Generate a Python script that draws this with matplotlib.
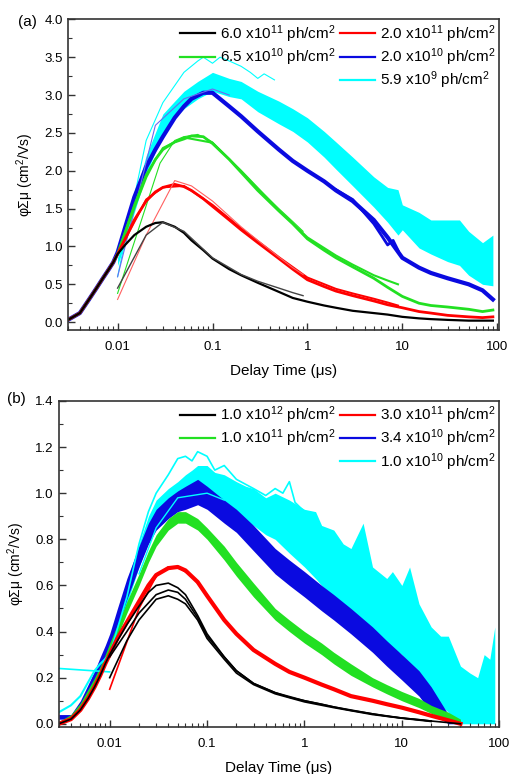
import matplotlib
matplotlib.use("Agg")
import matplotlib.pyplot as plt
from matplotlib.lines import Line2D
from matplotlib.ticker import FixedLocator, FixedFormatter, LogLocator, MultipleLocator, NullFormatter, FormatStrFormatter

plt.rcParams["font.family"] = ["Liberation Sans", "DejaVu Sans"]
plt.rcParams["mathtext.default"] = "regular"

# ---------------- panel (a) ----------------
t_a = [0.003, 0.004, 0.005, 0.006, 0.007, 0.008, 0.009, 0.01, 0.012, 0.015, 0.02, 0.025,
       0.03, 0.04, 0.05, 0.06, 0.08, 0.1, 0.15, 0.2, 0.3, 0.5, 0.7, 1, 1.5, 2, 3, 5, 7,
       10, 15, 20, 30, 50, 70, 90]
black_a = [0.03, 0.12, 0.30, 0.45, 0.58, 0.69, 0.79, 0.90, 1.02, 1.15, 1.26, 1.31, 1.32, 1.26,
           1.18, 1.08, 0.95, 0.84, 0.70, 0.62, 0.52, 0.40, 0.32, 0.27, 0.22, 0.19, 0.15, 0.12,
           0.10, 0.07, 0.05, 0.04, 0.03, 0.02, 0.02, 0.02]
red_a = [0.03, 0.12, 0.30, 0.45, 0.58, 0.69, 0.79, 0.90, 1.10, 1.35, 1.60, 1.72, 1.78, 1.82,
         1.79, 1.74, 1.63, 1.53, 1.35, 1.22, 1.05, 0.84, 0.70, 0.56, 0.47, 0.41, 0.35, 0.28,
         0.23, 0.19, 0.14, 0.12, 0.09, 0.07, 0.06, 0.07]
green_a = [0.03, 0.12, 0.30, 0.45, 0.58, 0.69, 0.79, 0.90, 1.18, 1.52, 1.92, 2.15, 2.28, 2.38,
           2.42, 2.46, 2.45, 2.36, 2.15, 1.98, 1.74, 1.47, 1.30, 1.10, 0.95, 0.85, 0.73, 0.58,
           0.46, 0.34, 0.25, 0.22, 0.20, 0.17, 0.14, 0.16]
blue_a = [0.03, 0.12, 0.30, 0.45, 0.58, 0.69, 0.79, 0.92, 1.25, 1.65, 2.05, 2.28, 2.45, 2.70,
          2.85, 2.95, 3.03, 3.03, 2.85, 2.72, 2.52, 2.28, 2.13, 2.00, 1.86, 1.74, 1.60, 1.35,
          1.12, 0.85, 0.72, 0.65, 0.58, 0.50, 0.42, 0.30]

# shorter acquisition windows (start at 10 ns)
black_a_short_t = [0.01, 0.02, 0.03, 0.05, 0.1, 0.2, 0.3, 0.5, 0.7, 0.9]
black_a_short = [0.45, 1.15, 1.32, 1.20, 0.85, 0.63, 0.54, 0.45, 0.39, 0.35]
red_a_short_t = [0.01, 0.02, 0.04, 0.06, 0.1, 0.2, 0.3, 0.5, 0.7, 0.9]
red_a_short = [0.30, 1.15, 1.87, 1.80, 1.60, 1.26, 1.08, 0.86, 0.72, 0.63]
red_a_mid_t = [0.01, 0.02, 0.03, 0.05, 0.1, 0.2, 0.5, 1, 2, 3, 5, 7, 9]
red_a_mid = [0.90, 1.62, 1.78, 1.80, 1.55, 1.24, 0.86, 0.59, 0.44, 0.38, 0.31, 0.26, 0.22]
green_a_short_t = [0.01, 0.028, 0.04, 0.05, 0.07, 0.1, 0.2, 0.3, 0.5, 0.7, 0.9]
green_a_short = [0.38, 2.10, 2.40, 2.45, 2.48, 2.38, 2.00, 1.77, 1.50, 1.33, 1.20]
green_a_mid_t = [0.01, 0.015, 0.02, 0.03, 0.05, 0.1, 0.2, 0.5, 1, 2, 3, 5, 7, 9]
green_a_mid = [0.90, 1.55, 1.95, 2.30, 2.44, 2.37, 2.00, 1.48, 1.12, 0.88, 0.76, 0.62, 0.55, 0.50]
blue_a_short_t = [0.01, 0.025, 0.05, 0.1, 0.15]
blue_a_short = [0.60, 2.60, 2.95, 3.08, 3.00]
blue_a_mid_t = [2, 3, 5, 6, 7, 8, 9]
blue_a_mid = [1.75, 1.62, 1.30, 1.15, 1.02, 1.08, 0.95]

cyan_a_t = [0.01, 0.012, 0.015, 0.02, 0.03, 0.04, 0.05, 0.07, 0.1, 0.15, 0.2, 0.3, 0.5, 0.7,
            1, 1.5, 2, 3, 5, 7, 9, 10, 15, 20, 30, 40, 50, 70, 90]
cyan_a_lo = [0.75, 1.05, 1.45, 1.95, 2.50, 2.70, 2.82, 2.95, 3.05, 2.98, 2.95, 2.78, 2.62,
             2.52, 2.38, 2.18, 2.02, 1.80, 1.52, 1.32, 1.15, 1.22, 0.98, 0.90, 0.80, 0.75,
             0.62, 0.50, 0.48]
cyan_a_hi = [0.85, 1.20, 1.65, 2.20, 2.75, 2.92, 3.05, 3.18, 3.30, 3.22, 3.18, 3.05, 2.92,
             2.82, 2.70, 2.52, 2.38, 2.18, 1.92, 1.78, 1.75, 1.55, 1.45, 1.35, 1.35, 1.35,
             1.20, 1.05, 1.15]
cyan_a_short_t = [0.01, 0.02, 0.03, 0.05, 0.07, 0.08, 0.1, 0.12, 0.15, 0.2, 0.25, 0.3, 0.35, 0.45]
cyan_a_short = [0.60, 2.40, 2.90, 3.30, 3.45, 3.50, 3.42, 3.50, 3.45, 3.38, 3.30, 3.22, 3.28, 3.20]

labels_a = ["6.0 x10$^{11}$ ph/cm$^2$", "2.0 x10$^{11}$ ph/cm$^2$", "6.5 x10$^{10}$ ph/cm$^2$",
            "2.0 x10$^{10}$ ph/cm$^2$", "5.9 x10$^{9}$ ph/cm$^2$"]

# ---------------- panel (b) ----------------
t_b = [0.003, 0.004, 0.005, 0.006, 0.007, 0.008, 0.009, 0.01, 0.012, 0.015, 0.02, 0.025,
       0.03, 0.04, 0.05, 0.06, 0.08, 0.1, 0.15, 0.2, 0.3, 0.5, 0.7, 1, 1.5, 2, 3, 5, 7,
       10, 15, 20, 30, 40]
black_b = [0.0, 0.02, 0.06, 0.11, 0.16, 0.21, 0.26, 0.30, 0.36, 0.43, 0.51, 0.57, 0.60, 0.61,
           0.59, 0.56, 0.47, 0.39, 0.29, 0.23, 0.175, 0.135, 0.115, 0.10, 0.085, 0.073, 0.058,
           0.043, 0.033, 0.025, 0.018, 0.012, 0.005, 0.0]
red_b = [0.0, 0.02, 0.06, 0.11, 0.16, 0.21, 0.26, 0.30, 0.37, 0.44, 0.53, 0.60, 0.645, 0.675,
         0.68, 0.665, 0.615, 0.555, 0.45, 0.39, 0.32, 0.26, 0.225, 0.20, 0.17, 0.15, 0.12,
         0.10, 0.085, 0.07, 0.05, 0.035, 0.015, 0.0]
green_b_lo = [0.0, 0.02, 0.06, 0.11, 0.16, 0.21, 0.26, 0.30, 0.38, 0.48, 0.60, 0.70, 0.77,
              0.84, 0.87, 0.87, 0.84, 0.80, 0.71, 0.64, 0.55, 0.45, 0.40, 0.35, 0.30, 0.26,
              0.21, 0.16, 0.13, 0.10, 0.07, 0.045, 0.015, 0.0]
green_b_hi = [0.01, 0.04, 0.09, 0.15, 0.20, 0.25, 0.30, 0.35, 0.43, 0.53, 0.65, 0.75, 0.82,
              0.89, 0.92, 0.92, 0.89, 0.85, 0.77, 0.70, 0.61, 0.50, 0.45, 0.40, 0.35, 0.31,
              0.26, 0.20, 0.17, 0.14, 0.11, 0.08, 0.05, 0.02]
blue_b_lo = [0.02, 0.02, 0.06, 0.12, 0.18, 0.24, 0.29, 0.33, 0.42, 0.54, 0.68, 0.78, 0.84,
             0.89, 0.92, 0.93, 0.95, 0.93, 0.87, 0.83, 0.75, 0.65, 0.60, 0.55, 0.49, 0.45,
             0.39, 0.31, 0.25, 0.19, 0.12, 0.05, 0.0, 0.0]
blue_b_hi = [0.04, 0.04, 0.10, 0.17, 0.23, 0.29, 0.34, 0.39, 0.50, 0.63, 0.77, 0.87, 0.93,
             0.98, 1.01, 1.03, 1.06, 1.03, 0.97, 0.93, 0.86, 0.76, 0.71, 0.66, 0.60, 0.56,
             0.50, 0.42, 0.36, 0.30, 0.23, 0.16, 0.04, 0.0]

black_b2_t = [0.01, 0.015, 0.02, 0.03, 0.04, 0.05, 0.06, 0.08, 0.1, 0.15, 0.2, 0.3, 0.5, 1, 2, 5, 10, 20]
black_b2 = [0.29, 0.40, 0.48, 0.56, 0.58, 0.57, 0.54, 0.46, 0.38, 0.29, 0.23, 0.175, 0.135,
            0.10, 0.073, 0.043, 0.025, 0.012]
black_b3 = [0.20, 0.36, 0.45, 0.54, 0.555, 0.54, 0.52, 0.45, 0.37, 0.28, 0.22, 0.17, 0.13,
            0.095, 0.07, 0.04, 0.024, 0.01]
red_b2_t = [0.01, 0.02, 0.03, 0.04, 0.05, 0.07, 0.1]
red_b2 = [0.15, 0.50, 0.64, 0.68, 0.68, 0.64, 0.56]

cyan_b_t = [0.01, 0.012, 0.015, 0.02, 0.025, 0.03, 0.04, 0.05, 0.06, 0.07, 0.08, 0.1, 0.12,
            0.15, 0.2, 0.25, 0.3, 0.4, 0.5, 0.7, 1, 1.3, 1.5, 2, 2.5, 3, 4, 5, 7, 8, 10, 12,
            15, 20, 25, 30, 40, 50, 60, 70, 80, 90]
cyan_b_lo = [0.30, 0.40, 0.52, 0.68, 0.80, 0.86, 0.92, 0.95, 0.97, 0.97, 0.98, 0.96, 0.94,
             0.92, 0.90, 0.88, 0.86, 0.82, 0.80, 0.74, 0.68, 0.63, 0.60, 0.55, 0.52, 0.48,
             0.44, 0.40, 0.35, 0.33, 0.30, 0.25, 0.20, 0.12, 0.08, 0.05, 0.0, 0.0, 0.0, 0.0,
             0.0, 0.0]
cyan_b_hi = [0.36, 0.48, 0.62, 0.78, 0.90, 0.97, 1.02, 1.05, 1.08, 1.10, 1.12, 1.12, 1.09,
             1.08, 1.05, 1.03, 1.02, 0.98, 1.00, 0.97, 0.93, 0.92, 0.86, 0.84, 0.78, 0.76,
             0.87, 0.68, 0.63, 0.66, 0.60, 0.68, 0.52, 0.42, 0.38, 0.38, 0.25, 0.22, 0.20,
             0.30, 0.28, 0.42]
cyan_b_early_t = [0.003, 0.004, 0.005, 0.006, 0.007, 0.008, 0.01]
cyan_b_early = [0.05, 0.08, 0.12, 0.18, 0.23, 0.26, 0.30]
cyan_b_flat_t = [0.003, 0.01]
cyan_b_flat = [0.24, 0.225]
cyan_b_thin_t = [0.01, 0.015, 0.02, 0.025, 0.03, 0.04, 0.05, 0.06, 0.07, 0.08, 0.1, 0.12,
                 0.15, 0.2, 0.3, 0.4, 0.5, 0.6, 0.7, 0.8, 1.0]
cyan_b_thin = [0.30, 0.55, 0.78, 0.92, 1.00, 1.08, 1.15, 1.16, 1.14, 1.18, 1.16, 1.10, 1.12,
               1.06, 1.02, 0.99, 1.02, 1.00, 1.05, 0.96, 0.92]
cyan_b_thin2_t = [0.02, 0.03, 0.05, 0.1, 0.15]
cyan_b_thin2 = [0.65, 0.85, 0.98, 1.00, 0.97]

labels_b = ["1.0 x10$^{12}$ ph/cm$^2$", "3.0 x10$^{11}$ ph/cm$^2$", "1.0 x10$^{11}$ ph/cm$^2$",
            "3.4 x10$^{10}$ ph/cm$^2$", "1.0 x10$^{10}$ ph/cm$^2$"]

BLACK, RED, GREEN, BLUE, CYAN = "#000000", "#ff0000", "#22e022", "#0a0ae0", "#00ffff"
colors = [BLACK, RED, GREEN, BLUE, CYAN]


def style_axes(ax, xlim, ylim, ymajor, yminor):
    ax.set_xscale("log")
    ax.set_xlim(*xlim)
    ax.set_ylim(*ylim)
    ax.xaxis.set_major_locator(FixedLocator([0.01, 0.1, 1, 10, 100]))
    ax.xaxis.set_major_formatter(FixedFormatter(["0.01", "0.1", "1", "10", "100"]))
    ax.xaxis.set_minor_locator(LogLocator(base=10, subs=range(2, 10)))
    ax.xaxis.set_minor_formatter(NullFormatter())
    ax.yaxis.set_major_locator(MultipleLocator(ymajor))
    ax.yaxis.set_minor_locator(MultipleLocator(yminor))
    ax.yaxis.set_major_formatter(FormatStrFormatter("%.1f"))
    ax.tick_params(which="major", direction="in", length=5, width=1, labelsize=9.5,
                   top=False, right=False, color="#333333")
    ax.tick_params(which="minor", direction="in", length=3, width=0.8,
                   top=False, right=False, color="#333333")
    ax.tick_params(axis="x", pad=8)
    for sp in ax.spines.values():
        sp.set_linewidth(1.2)
        sp.set_color("#333333")
    ax.set_xlabel("Delay Time (μs)", fontsize=11, labelpad=8)
    ax.set_ylabel("φΣμ (cm$^2$/Vs)", fontsize=10, labelpad=6)


def add_legend(ax, labels):
    h = [Line2D([], [], color=c, lw=1.6) for c in colors]
    blank = Line2D([], [], color="none")
    handles = [h[0], h[2], blank, h[1], h[3], h[4]]
    labs = [labels[0], labels[2], "", labels[1], labels[3], labels[4]]
    ax.legend(handles, labs, ncol=2, loc="upper right", frameon=False, fontsize=11,
              handlelength=2.3, handletextpad=0.3, columnspacing=0.3, labelspacing=0.1,
              borderaxespad=0.05, borderpad=0.2)


fig = plt.figure(figsize=(5.11, 7.74), dpi=100)
ax_a = fig.add_axes([0.133, 0.574, 0.844, 0.401])
ax_b = fig.add_axes([0.115, 0.061, 0.862, 0.421])

# panel (a)
ax_a.fill_between(cyan_a_t, cyan_a_lo, cyan_a_hi, color=CYAN, lw=0)
ax_a.plot(cyan_a_short_t, cyan_a_short, color=CYAN, lw=0.8)
ax_a.plot(t_a, blue_a, color=BLUE, lw=3.0)
ax_a.plot(blue_a_mid_t, blue_a_mid, color=BLUE, lw=2.0)
ax_a.plot(blue_a_short_t, blue_a_short, color="#6a6af0", lw=0.8)
ax_a.plot(t_a, green_a, color=GREEN, lw=2.0)
ax_a.plot(green_a_mid_t, green_a_mid, color=GREEN, lw=1.5)
ax_a.plot(green_a_short_t, green_a_short, color=GREEN, lw=0.8)
ax_a.plot(t_a, red_a, color=RED, lw=2.0)
ax_a.plot(red_a_mid_t, red_a_mid, color=RED, lw=1.4)
ax_a.plot(red_a_short_t, red_a_short, color="#ff6060", lw=0.8)
ax_a.plot(t_a, black_a, color=BLACK, lw=1.6)
ax_a.plot(black_a_short_t, black_a_short, color="#444444", lw=1.0)
style_axes(ax_a, (0.003, 105), (-0.1, 4.0), 0.5, 0.25)
add_legend(ax_a, labels_a)
fig.text(0.035, 0.972, "(a)", fontsize=11, va="center", ha="left")

# panel (b)
ax_b.fill_between(cyan_b_t, cyan_b_lo, cyan_b_hi, color=CYAN, lw=0)
ax_b.plot(cyan_b_early_t, cyan_b_early, color=CYAN, lw=1.5)
ax_b.plot(cyan_b_flat_t, cyan_b_flat, color=CYAN, lw=1.2)
ax_b.plot(cyan_b_thin_t, cyan_b_thin, color=CYAN, lw=1.2)
ax_b.fill_between(t_b, blue_b_lo, blue_b_hi, color=BLUE, lw=0)
ax_b.plot(cyan_b_thin2_t, cyan_b_thin2, color=CYAN, lw=1.0)
ax_b.fill_between(t_b, green_b_lo, green_b_hi, color=GREEN, lw=0)
ax_b.plot(t_b, red_b, color=RED, lw=3.0)
ax_b.plot(red_b2_t, red_b2, color=RED, lw=1.2)
ax_b.plot(t_b, black_b, color=BLACK, lw=1.2)
ax_b.plot(black_b2_t, black_b2, color=BLACK, lw=1.2)
ax_b.plot(black_b2_t, black_b3, color=BLACK, lw=1.2)
style_axes(ax_b, (0.003, 100), (-0.013, 1.4), 0.2, 0.1)
add_legend(ax_b, labels_b)
fig.text(0.014, 0.484, "(b)", fontsize=11, va="center", ha="left")

fig.savefig("out.png", dpi=100)
